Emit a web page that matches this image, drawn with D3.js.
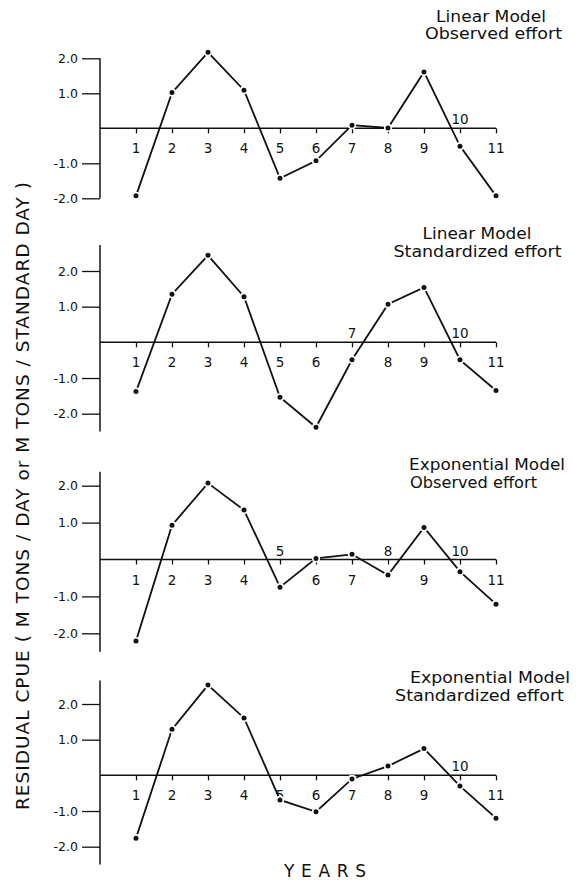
<!DOCTYPE html>
<html>
<head>
<meta charset="utf-8">
<script src="https://cdn.jsdelivr.net/npm/d3@7"></script>
<style>
  body { margin: 0; background: #fff; }
  svg text { font-family: "DejaVu Sans", sans-serif; fill: #111; }
</style>
</head>
<body>
<div id="chart"></div>
<script>
const svgWidth = 579;
const svgHeight = 892;

// data
const years = [1, 2, 3, 4, 5, 6, 7, 8, 9, 10, 11];
const linearObserved = [-1.93, 1.02, 2.17, 1.09, -1.43, -0.93, 0.09, 0.01, 1.61, -0.51, -1.93];
const linearStandard = [-1.38, 1.35, 2.44, 1.28, -1.54, -2.38, -0.49, 1.07, 1.54, -0.49, -1.35];
const expObserved = [-2.21, 0.93, 2.07, 1.34, -0.75, 0.03, 0.14, -0.42, 0.87, -0.33, -1.21];
const expStandard = [-1.76, 1.29, 2.53, 1.61, -0.69, -1.02, -0.1, 0.26, 0.75, -0.3, -1.2];
const panelTitles = [
  ["Linear Model", "Observed effort"],
  ["Linear Model", "Standardized effort"],
  ["Exponential Model", "Observed effort"],
  ["Exponential Model", "Standardized effort"]
];
const labelsAbove = [[10], [7, 10], [5, 8, 10], [10]];
const yTicks = [2, 1, -1, -2];
const yTickLabels = ["2.0", "1.0", "-1.0", "-2.0"];
const series = [linearObserved, linearStandard, expObserved, expStandard];

// layout of each panel: pixel y of -2 and +2, axis extent in data units, title lines (centre x, baseline y, width)
const panels = [
  { ylo: 198.3, yhi: 58.3, axTop: 2, axBot: -2,
    titles: [[491, 21.5, 110], [493.5, 39, 137]] },
  { ylo: 413.7, yhi: 271, axTop: 2.73, axBot: -2.5,
    titles: [[477, 238.5, 109], [477.5, 257, 168]] },
  { ylo: 633.3, yhi: 485.7, axTop: 2.38, axBot: -2.5,
    titles: [[487, 469.5, 156], [473.5, 487.5, 127]] },
  { ylo: 846.7, yhi: 704, axTop: 2.66, axBot: -2.5,
    titles: [[490, 683, 160], [479.5, 700.5, 169]] }
];

let svg = d3.select("#chart").append("svg").attr("width", svgWidth).attr("height", svgHeight);

let x = d3.scaleLinear().domain([0, 11]).range([100, 496]);

panels.forEach((p, i) => {
  let y = d3.scaleLinear().domain([-2, 2]).range([p.ylo, p.yhi]);
  let g = svg.append("g");

  // y axis line + ticks
  g.append("line")
    .attr("x1", x(0)).attr("x2", x(0))
    .attr("y1", y(p.axTop)).attr("y2", y(p.axBot))
    .attr("stroke", "#111").attr("stroke-width", 1.5);
  let yAxis = d3.axisLeft(y).tickValues(yTicks).tickSize(18).tickPadding(4)
    .tickFormat((d, j) => yTickLabels[j]);
  let ya = g.append("g").attr("transform", `translate(${x(0)},0)`).call(yAxis);
  ya.select(".domain").remove();
  ya.selectAll(".tick line").attr("stroke", "#111").attr("stroke-width", 1.3);
  ya.selectAll(".tick text").attr("font-size", 12.5).attr("fill", "#111")
    .style("font-family", "'DejaVu Sans', sans-serif");

  // zero line with year ticks
  let xa = g.append("g").attr("transform", `translate(0,${y(0)})`)
    .call(d3.axisBottom(x).tickValues(years).tickSize(5).tickFormat(""));
  xa.select(".domain").attr("d", `M${x(0)},0H${x(11)}`).attr("stroke", "#111").attr("stroke-width", 1.5);
  xa.selectAll(".tick line").attr("stroke", "#111").attr("stroke-width", 1.3);

  // year labels, below or above the zero line
  g.selectAll("text.yr")
    .data(years)
    .enter()
    .append("text")
    .classed("yr", true)
    .attr("x", d => x(d))
    .attr("y", d => labelsAbove[i].includes(d) ? y(0) - 4 : y(0) + 25)
    .attr("text-anchor", "middle")
    .attr("font-size", 13.5)
    .text(d => d);

  // residual line, dots with a small white gap round them
  let pts = years.map((d, j) => [d, series[i][j]]);
  g.append("path")
    .datum(pts)
    .attr("fill", "none")
    .attr("stroke", "#111")
    .attr("stroke-width", 1.8)
    .attr("d", d3.line().x(d => x(d[0])).y(d => y(d[1])));
  g.selectAll("circle")
    .data(pts)
    .enter()
    .append("circle")
    .attr("cx", d => x(d[0]))
    .attr("cy", d => y(d[1]))
    .attr("r", 3.3)
    .attr("fill", "#111")
    .attr("stroke", "#fff")
    .attr("stroke-width", 1.6);

  // panel title
  panelTitles[i].forEach((t, k) => {
    let [tx, ty, tw] = p.titles[k];
    g.append("text")
      .attr("x", tx)
      .attr("y", ty)
      .attr("text-anchor", "middle")
      .attr("font-size", 15)
      .attr("textLength", tw)
      .attr("lengthAdjust", "spacingAndGlyphs")
      .text(t);
  });
});

// axis titles
svg.append("text")
  .attr("x", 325)
  .attr("y", 877)
  .attr("text-anchor", "middle")
  .attr("font-size", 17)
  .attr("textLength", 82)
  .attr("lengthAdjust", "spacing")
  .text("YEARS");

svg.append("text")
  .attr("transform", "translate(29,496) rotate(-90)")
  .attr("text-anchor", "middle")
  .attr("font-size", 18.5)
  .attr("textLength", 628)
  .attr("lengthAdjust", "spacing")
  .text("RESIDUAL CPUE ( M TONS / DAY or M TONS / STANDARD DAY )");
</script>
</body>
</html>
